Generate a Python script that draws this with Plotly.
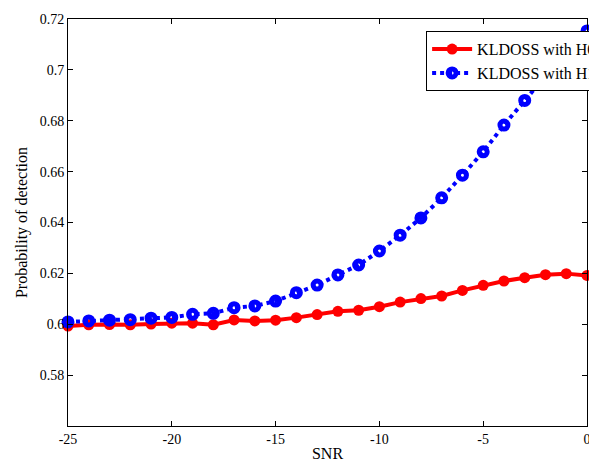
import plotly.graph_objects as go

snr = list(range(-25, 1))
h0 = [0.5993, 0.5998, 0.5999, 0.5998, 0.6001, 0.6004, 0.6004, 0.5998, 0.6017, 0.6013,
      0.6016, 0.6026, 0.6038, 0.6051, 0.6055, 0.6069, 0.6087, 0.6101, 0.6111, 0.6133,
      0.6153, 0.6170, 0.6183, 0.6195, 0.6199, 0.6192]
h1 = [0.6009, 0.6013, 0.6016, 0.6018, 0.6024, 0.6027, 0.6039, 0.6043, 0.6065, 0.6072,
      0.6091, 0.6124, 0.6154, 0.6194, 0.6233, 0.6288, 0.6350, 0.6418, 0.6497, 0.6586,
      0.6678, 0.6783, 0.6880, 0.6976, 0.7090, 0.7153]
yticks = [0.58, 0.6, 0.62, 0.64, 0.66, 0.68, 0.7, 0.72]
ytick_labels = ["0.58", "0.6", "0.62", "0.64", "0.66", "0.68", "0.7", "0.72"]
xticks = [-25, -20, -15, -10, -5, 0]

font = "Liberation Serif"

fig = go.Figure()
fig.add_trace(go.Scatter(
    x=snr, y=h0, mode="lines+markers", name="KLDOSS with H0",
    line=dict(color="#ff0000", width=4),
    marker=dict(symbol="circle", size=11, color="#ff0000"),
    cliponaxis=False,
))
fig.add_trace(go.Scatter(
    x=snr, y=h1, mode="lines+markers", name="KLDOSS with H1",
    line=dict(color="#0000ff", width=4, dash="dot"),
    marker=dict(symbol="circle-open", size=8, color="#0000ff", line=dict(width=5, color="#0000ff")),
    cliponaxis=False,
))

axis_common = dict(
    showgrid=False, zeroline=False, showline=True, linecolor="black", linewidth=1,
    mirror="ticks", ticks="inside", ticklen=5, tickcolor="black",
    tickfont=dict(family=font, size=14, color="black"),
    automargin=False, ticklabeloverflow="allow",
)
fig.update_xaxes(range=[-25, 0], tickvals=xticks, ticktext=[str(v) for v in xticks],
                 title=dict(text="SNR", font=dict(family=font, size=16, color="black"), standoff=2),
                 **axis_common)
fig.update_yaxes(range=[0.56, 0.72], tickvals=yticks, ticktext=ytick_labels,
                 title=dict(text="Probability of detection", font=dict(family=font, size=16, color="black"), standoff=8),
                 **axis_common)

fig.update_layout(
    width=589, height=467,
    margin=dict(l=68, r=2, t=19, b=41, autoexpand=False),
    paper_bgcolor="white", plot_bgcolor="white",
    showlegend=True,
    legend=dict(x=0.69, y=0.97, xanchor="left", yanchor="top",
                bgcolor="white", bordercolor="black", borderwidth=1,
                font=dict(family=font, size=16, color="black"),
                tracegroupgap=0, itemwidth=40),
    font=dict(family=font, color="black"),
)

fig.write_html(
    "out.html",
    config={"responsive": False, "displayModeBar": False},
    post_script="document.body.style.margin='0';document.body.style.padding='0';document.body.style.overflow='hidden';",
)
